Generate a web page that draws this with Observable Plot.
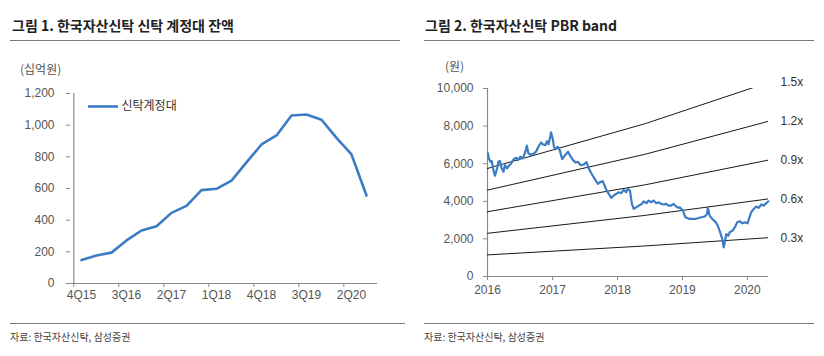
<!DOCTYPE html>
<html>
<head>
<meta charset="utf-8">
<script src="https://cdn.jsdelivr.net/npm/d3@7"></script>
<script src="https://cdn.jsdelivr.net/npm/@observablehq/plot@0.6"></script>
<style>
  html, body { margin: 0; padding: 0; background: #fff; }
  #page { position: relative; width: 824px; height: 356px; overflow: hidden; background: #fff; }
  .abs { position: absolute; white-space: nowrap; }
  .title { font-family: 'Noto Sans CJK KR', sans-serif; font-weight: bold; font-size: 14px; color: #222; line-height: 16px; }
  .rule { height: 1px; background: #7a7a7a; }
  .src { font-family: 'Noto Sans CJK KR', sans-serif; font-size: 10px; color: #444; line-height: 12px; }
  .unit { font-family: 'Noto Sans CJK KR', sans-serif; font-size: 12px; color: #555; line-height: 14px; }
  svg { position: absolute; top: 0; }
</style>
</head>
<body>
<div id="page">
  <div class="abs title" style="left:12px; top:17px;">그림 1. 한국자산신탁 신탁 계정대 잔액</div>
  <div class="abs rule" style="left:10px; top:40px; width:390px;"></div>
  <div class="abs title" style="left:425px; top:17px;">그림 2. 한국자산신탁 PBR band</div>
  <div class="abs rule" style="left:424px; top:40px; width:390px;"></div>
  <div class="abs unit" style="left:20px; top:62px;">(십억원)</div>
  <div class="abs unit" style="left:445px; top:59px;">(원)</div>
  <div class="abs rule" style="left:10px; top:323px; width:395px;"></div>
  <div class="abs rule" style="left:424px; top:323px; width:390px;"></div>
  <div class="abs src" style="left:10px; top:331px;">자료: 한국자산신탁, 삼성증권</div>
  <div class="abs src" style="left:424px; top:331px;">자료: 한국자산신탁, 삼성증권</div>
  <div id="left"></div>
  <div id="right"></div>
</div>
<script>
// ---------- Chart 1 data ----------
const quarters = ["4Q15","1Q16","2Q16","3Q16","4Q16","1Q17","2Q17","3Q17","4Q17","1Q18","2Q18","3Q18","4Q18","1Q19","2Q19","3Q19","4Q19","1Q20","2Q20","3Q20"];
const trustLoans = [148, 177, 195, 272, 335, 362, 446, 490, 590, 598, 650, 765, 878, 935, 1061, 1067, 1034, 920, 815, 556];
const quarterLabels = ["4Q15","3Q16","2Q17","1Q18","4Q18","3Q19","2Q20"];
const yTicks1 = [0, 200, 400, 600, 800, 1000, 1200];
const seriesName1 = "신탁계정대";

// ---------- Chart 2 data ----------
const priceDates = ["2016-01-04","2016-01-07","2016-01-18","2016-01-25","2016-02-03","2016-02-12","2016-02-24","2016-03-02","2016-03-11","2016-03-21","2016-03-31","2016-04-08","2016-04-20","2016-05-03","2016-05-13","2016-05-27","2016-06-10","2016-06-20","2016-07-04","2016-07-18","2016-08-01","2016-08-09","2016-08-18","2016-09-02","2016-09-19","2016-09-30","2016-10-13","2016-10-28","2016-11-07","2016-11-21","2016-12-01","2016-12-09","2016-12-19","2016-12-23","2017-01-02","2017-01-09","2017-01-18","2017-01-30","2017-02-10","2017-02-24","2017-03-10","2017-03-29","2017-04-13","2017-04-26","2017-05-10","2017-05-24","2017-06-07","2017-06-26","2017-07-11","2017-07-24","2017-08-14","2017-08-31","2017-09-13","2017-09-25","2017-10-10","2017-10-20","2017-11-01","2017-11-13","2017-11-27","2017-12-11","2017-12-26","2018-01-08","2018-01-22","2018-02-05","2018-02-19","2018-02-27","2018-03-12","2018-03-23","2018-04-02","2018-04-17","2018-04-30","2018-05-18","2018-05-28","2018-06-12","2018-06-25","2018-07-09","2018-07-23","2018-08-07","2018-08-20","2018-09-03","2018-09-17","2018-10-02","2018-10-15","2018-10-29","2018-11-12","2018-11-27","2018-12-10","2018-12-17","2019-01-04","2019-01-18","2019-02-11","2019-03-11","2019-03-29","2019-04-17","2019-05-07","2019-05-20","2019-05-24","2019-06-03","2019-06-18","2019-07-08","2019-07-19","2019-08-01","2019-08-13","2019-08-21","2019-08-29","2019-09-05","2019-09-16","2019-09-24","2019-10-10","2019-10-23","2019-11-05","2019-11-19","2019-12-04","2019-12-17","2020-01-02","2020-01-13","2020-01-23","2020-02-06","2020-02-21","2020-03-05","2020-03-20","2020-04-02","2020-04-17","2020-04-28"];
const priceValues = [6550,6320,6100,6140,5660,5360,5750,6100,6140,5750,5570,5920,5750,5920,6010,6240,6320,6190,6370,6280,6640,6960,6550,6460,6550,6640,6900,7130,7030,6990,7200,7030,7440,7670,7310,6900,6780,6900,6720,6240,6430,6640,6370,6190,6070,6100,5920,5960,6080,5730,5370,5110,4930,5020,5070,4840,4570,4400,4180,4310,4400,4480,4430,4610,4480,4660,4570,3860,3600,3680,3770,3860,4000,3900,4040,3950,4040,3900,3950,3860,3830,3860,3770,3770,3860,3720,3650,3680,3510,3150,3060,3060,3100,3150,3190,3330,3650,3240,3060,2880,2700,2350,2000,1550,1900,2260,2170,2350,2440,2620,2880,2940,2830,2880,2830,3150,3420,3600,3720,3650,3830,3770,3900,4000];
const bpsDates = ["2016-01-01", "2018-06-06", "2020-04-29"];
const bpsValues = [3830, 5420, 6880];
const pbrMultiples = [0.3, 0.6, 0.9, 1.2, 1.5];
const pbrLabels = ["0.3x", "0.6x", "0.9x", "1.2x", "1.5x"];
const yTicks2 = [0, 2000, 4000, 6000, 8000, 10000];
const yearTicks = ["2016-01-01","2017-01-01","2018-01-01","2019-01-01","2020-01-01"];
const xDomain2 = ["2016-01-01", "2020-04-29"];

// ---------- styles ----------
const blue = "#3B7CC4";
const axisGray = "#8a8a8a";
const tickText = "#555";
const latinFont = "'Liberation Sans', 'Noto Sans CJK KR', sans-serif";

// ---------- Chart 1 ----------
const rows1 = quarters.map((q, i) => ({q, v: trustLoans[i]}));
const L = {w: 412, h: 320, ml: 70, mr: 35, mt: 93, mb: 37};
const step1 = (L.w - L.ml - L.mr) / quarters.length;
const legendY = 1118;

const chart1 = Plot.plot({
  width: L.w, height: L.h,
  marginLeft: L.ml, marginRight: L.mr, marginTop: L.mt, marginBottom: L.mb,
  style: {fontFamily: latinFont, fontSize: "12px", color: tickText, background: "transparent", overflow: "visible"},
  x: {type: "point", domain: quarters, padding: 0.5, label: null},
  y: {domain: [0, 1200], label: null},
  marks: [
    Plot.axisY({ticks: yTicks1, tickSize: 4, tickPadding: 12, tickFormat: d3.format(","), stroke: axisGray, fill: tickText}),
    Plot.axisX({ticks: quarterLabels, tickSize: 4, dx: -step1 / 2, tickFormat: () => "", stroke: axisGray}),
    Plot.axisX({ticks: quarterLabels, tickSize: 0, tickPadding: 7, fill: tickText}),
    Plot.ruleY([0], {stroke: axisGray, strokeWidth: 1.2}),
    Plot.ruleX([quarters[0]], {x: d => d, dx: -step1 / 2, stroke: axisGray, strokeWidth: 1.2}),
    Plot.line(rows1, {x: "q", y: "v", stroke: blue, strokeWidth: 2.6, strokeLinejoin: "round"}),
    // legend
    Plot.ruleY([legendY], {y: d => d, x1: () => quarters[0], x2: () => quarters[2], dx: 7, stroke: blue, strokeWidth: 2.6}),
    Plot.text([seriesName1], {x: () => quarters[2], y: () => legendY, dx: 10, text: d => d, textAnchor: "start", fill: "#333", fontFamily: "'Noto Sans CJK KR', sans-serif", fontSize: 12})
  ]
});
chart1.style.left = "0px";
document.getElementById("left").appendChild(chart1);

// ---------- Chart 2 ----------
const parse = d3.utcParse("%Y-%m-%d");
const priceRows = priceDates.map((d, i) => ({date: parse(d), v: priceValues[i]}));
const bpsRows = bpsDates.map((d, i) => ({date: parse(d), bps: bpsValues[i]}));
const R = {w: 412, h: 320, ml: 75, mr: 56, mt: 88, mb: 44};
const lastBps = bpsRows[bpsRows.length - 1];

const bandMarks = pbrMultiples.map(m =>
  Plot.line(bpsRows, {x: "date", y: d => d.bps * m, stroke: "#1a1a1a", strokeWidth: 1, clip: true})
);
const labelRows = pbrMultiples.map((m, i) => ({date: lastBps.date, v: lastBps.bps * m, label: pbrLabels[i]}));

const chart2 = Plot.plot({
  width: R.w, height: R.h,
  marginLeft: R.ml, marginRight: R.mr, marginTop: R.mt, marginBottom: R.mb,
  style: {fontFamily: latinFont, fontSize: "12px", color: tickText, background: "transparent", overflow: "visible"},
  x: {type: "utc", domain: xDomain2.map(parse), label: null},
  y: {domain: [0, 10000], label: null},
  marks: [
    Plot.axisY({ticks: yTicks2, tickSize: 4, tickPadding: 10, tickFormat: d3.format(","), stroke: axisGray, fill: tickText}),
    Plot.axisX({ticks: yearTicks.map(parse), tickSize: 4, tickPadding: 5, tickFormat: d3.utcFormat("%Y"), stroke: axisGray, fill: tickText}),
    Plot.ruleY([0], {stroke: axisGray, strokeWidth: 1.2}),
    Plot.ruleX([parse(xDomain2[0])], {stroke: axisGray, strokeWidth: 1.2}),
    ...bandMarks,
    Plot.line(priceRows, {x: "date", y: "v", stroke: blue, strokeWidth: 2.2, strokeLinejoin: "round"}),
    Plot.text(labelRows, {x: "date", y: "v", text: "label", dx: 12, textAnchor: "start", fill: "#333", fontSize: 12})
  ]
});
chart2.style.left = "412px";
document.getElementById("right").appendChild(chart2);
</script>
</body>
</html>
